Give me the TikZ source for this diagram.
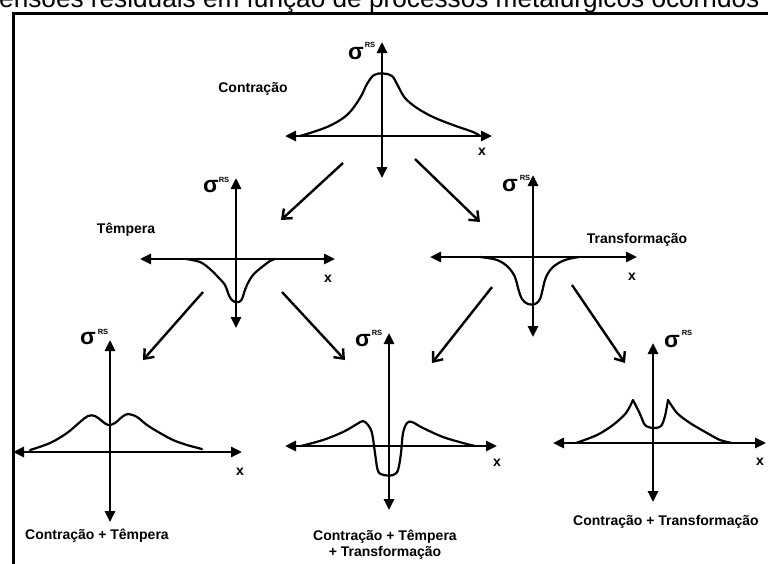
\documentclass[tikz,border=0pt]{standalone}
\usepackage{fontspec}
\setmainfont{Liberation Sans}
\usetikzlibrary{arrows.meta}
\begin{document}
\begin{tikzpicture}[x=1pt,y=-1pt,
 axis/.style={line width=2.6pt, {Triangle[length=11pt,width=10pt]}-{Triangle[length=11pt,width=10pt]}},
 flow/.style={line width=2.4pt, -{Straight Barb[length=8pt,width=13pt]}},
 curve/.style={line width=2.2pt, line join=round, line cap=round},
 lab/.style={font=\fontsize{14}{16}\selectfont\bfseries, inner sep=0pt, align=center},
 sig/.style={font=\fontsize{23}{23}\selectfont\bfseries, inner sep=0pt},
 rs/.style={font=\fontsize{7.5}{8}\selectfont\bfseries, inner sep=0pt},
 xl/.style={font=\fontsize{14}{14}\selectfont\bfseries, inner sep=0pt}]
\useasboundingbox (0,0) rectangle (768,563);
\clip (0,0) rectangle (768,563);
\fill[white] (0,0) rectangle (768,563);

% title and frame
\node[anchor=base west, inner sep=0pt, font=\fontsize{26.2}{28}\selectfont] (title) at (-1,7.5) {ensões residuais em função de processos metalúrgicos ocorridos};
\coordinate (fbl) at (13.5,565);
\coordinate (ftl) at (13.5,13.5);
\coordinate (ftr) at (770,13.5);
\draw[line width=3pt] (fbl) -- (ftl) -- (ftr);

% ---------- top chart: Contração ----------
\coordinate (c-l) at (285,136); \coordinate (c-r) at (492,136);
\coordinate (c-t) at (382,42);  \coordinate (c-b) at (382,178);
\draw[axis] (c-l) -- (c-r);
\draw[axis] (c-b) -- (c-t);
\draw[curve] plot[smooth, tension=0.6] coordinates {(300,136) (327,127) (347,115) (360,98) (367,84) (374,75) (383,73.5) (392,76) (398,86) (405,98) (417,108) (433,117) (453,125) (473,132) (480,136)};
\node[sig] (c-sig) at (356,54) {σ};
\node[rs] (c-rs) at (370,45) {RS};
\node[xl] (c-x) at (482,152) {x};
\node[lab] (c-lab) at (253,89) {Contração};

% ---------- middle left: Têmpera ----------
\coordinate (t-l) at (140,259); \coordinate (t-r) at (335,259);
\coordinate (t-t) at (236,178); \coordinate (t-b) at (236,328);
\draw[axis] (t-l) -- (t-r);
\draw[axis] (t-b) -- (t-t);
\draw[curve] plot[smooth, tension=0.6] coordinates {(186,259) (200,262) (210,269) (218,277) (225,285) (228,293) (231,299) (235,302) (239,302) (242,299) (244,293) (247,285) (253,275) (262,267) (270,261) (275,259)};
\node[sig] (t-sig) at (211,187) {σ};
\node[rs] (t-rs) at (224,180) {RS};
\node[xl] (t-x) at (328,279) {x};
\node[lab] (t-lab) at (126,230) {Têmpera};

% ---------- middle right: Transformação ----------
\coordinate (f-l) at (430,257); \coordinate (f-r) at (637,257);
\coordinate (f-t) at (533,175); \coordinate (f-b) at (533,337);
\draw[axis] (f-l) -- (f-r);
\draw[axis] (f-b) -- (f-t);
\draw[curve] plot[smooth, tension=0.6] coordinates {(480,257) (497,260) (508,267) (515,277) (518,288) (522,299) (528,304) (535,304) (540,299) (543,288) (546,277) (553,267) (565,260) (579,257)};
\node[sig] (f-sig) at (510,186) {σ};
\node[rs] (f-rs) at (525,178) {RS};
\node[xl] (f-x) at (632,277) {x};
\node[lab] (f-lab) at (637,240) {Transformação};

% ---------- bottom left: Contração + Têmpera ----------
\coordinate (bl-l) at (13,452); \coordinate (bl-r) at (242,452);
\coordinate (bl-t) at (110,340); \coordinate (bl-b) at (110,522);
\draw[axis] (bl-l) -- (bl-r);
\draw[axis] (bl-b) -- (bl-t);
\draw[curve] plot[smooth, tension=0.6] coordinates {(30,450) (50,443) (67,433) (80,422) (88,416) (95,416) (102,421) (108,425) (115,423) (122,417) (128,414) (137,417) (147,425) (160,433) (173,440) (187,445) (202,449)};
\node[sig] (bl-sig) at (88,339) {σ};
\node[rs] (bl-rs) at (103,332) {RS};
\node[xl] (bl-x) at (240,472) {x};
\node[lab] (bl-lab) at (97,536) {Contração + Têmpera};

% ---------- bottom middle: Contração + Têmpera + Transformação ----------
\coordinate (bm-l) at (285,446); \coordinate (bm-r) at (497,446);
\coordinate (bm-t) at (389,333); \coordinate (bm-b) at (389,510);
\draw[axis] (bm-l) -- (bm-r);
\draw[axis] (bm-b) -- (bm-t);
\draw[curve] plot[smooth, tension=0.55] coordinates {(301,446) (323,440) (343,432) (357,424) (363,421) (368,425) (372,433) (375,453) (378,471) (384,475) (393,475) (398,470) (401,453) (403,433) (407,423) (412,422) (423,428) (443,437) (463,443) (475,446)};
\node[sig] (bm-sig) at (363,341) {σ};
\node[rs] (bm-rs) at (377,333) {RS};
\node[xl] (bm-x) at (497,463) {x};
\node[lab] (bm-lab) at (385,545) {Contração + Têmpera\\+ Transformação};

% ---------- bottom right: Contração + Transformação ----------
\coordinate (br-l) at (553,443); \coordinate (br-r) at (766,443);
\coordinate (br-t) at (653,343); \coordinate (br-b) at (653,502);
\draw[axis] (br-l) -- (br-r);
\draw[axis] (br-b) -- (br-t);
\draw[curve] plot[smooth, tension=0.5] coordinates {(576,443) (597,435) (613,425) (626,413) (633,400)};
\draw[curve] plot[smooth, tension=0.5] coordinates {(633,400) (640,414) (645,425) (653,428) (661,426) (665,416) (668,400)};
\draw[curve] plot[smooth, tension=0.5] coordinates {(668,400) (677,413) (690,423) (707,433) (720,440) (732,443)};
\node[sig] (br-sig) at (672,342) {σ};
\node[rs] (br-rs) at (687,333) {RS};
\node[xl] (br-x) at (760,462) {x};
\node[lab, anchor=west] (br-lab) at (573,522) {Contração + Transformação};

% ---------- process arrows ----------
\coordinate (a1s) at (343,163); \coordinate (a1e) at (281,220);
\coordinate (a2s) at (415,159); \coordinate (a2e) at (480,222);
\coordinate (a3s) at (203,292); \coordinate (a3e) at (143,360);
\coordinate (a4s) at (282,292); \coordinate (a4e) at (345,360);
\coordinate (a5s) at (492,287); \coordinate (a5e) at (432,363);
\coordinate (a6s) at (572,285); \coordinate (a6e) at (625,363);
\draw[flow] (a1s) -- (a1e);
\draw[flow] (a2s) -- (a2e);
\draw[flow] (a3s) -- (a3e);
\draw[flow] (a4s) -- (a4e);
\draw[flow] (a5s) -- (a5e);
\draw[flow] (a6s) -- (a6e);
\end{tikzpicture}
\end{document}
